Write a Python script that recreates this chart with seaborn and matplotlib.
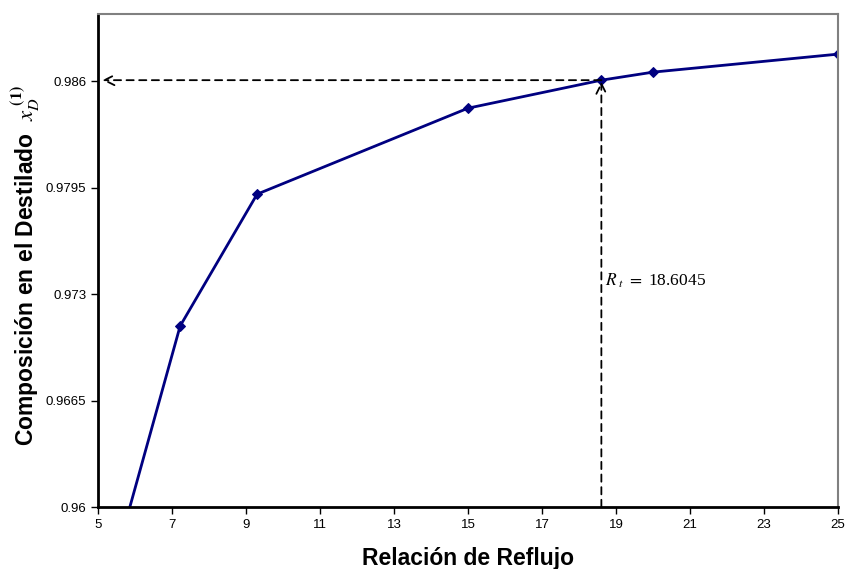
import matplotlib
matplotlib.use("Agg")
import matplotlib.pyplot as plt
import seaborn as sns
import pandas as pd

reflux = [5.0, 7.22, 9.3, 15.0, 18.6045, 20.0, 25.0]
xd = [0.9530, 0.97105, 0.9791, 0.98435, 0.98606, 0.98655, 0.98765]
xticks = [5, 7, 9, 11, 13, 15, 17, 19, 21, 23, 25]
yticks = [0.96, 0.9665, 0.973, 0.9795, 0.986]
ytick_labels = ["0.96", "0.9665", "0.973", "0.9795", "0.986"]
rt = 18.6045
rt_y = 0.98606

sns.set_style("white")
plt.rcParams['font.family'] = ['Liberation Sans', 'DejaVu Sans']
plt.rcParams['mathtext.fontset'] = 'stix'
for k in ['text.color', 'axes.labelcolor', 'xtick.color', 'ytick.color']:
    plt.rcParams[k] = 'black'

fig = plt.figure(figsize=(8.46, 5.69), dpi=100)
ax = fig.add_axes([98/846, 62/569, 740/846, 493/569])

df = pd.DataFrame({"R": reflux, "x": xd})
sns.lineplot(data=df, x="R", y="x", ax=ax, color="#000080", linewidth=2,
             marker="D", markersize=5, markeredgecolor="#000080", clip_on=True)

ax.set_xlim(5, 25)
ax.set_ylim(0.96, 0.9901)
ax.set_xticks(xticks)
ax.set_xticklabels([str(t) for t in xticks], fontsize=9.5)
ax.set_yticks(yticks)
ax.set_yticklabels(ytick_labels, fontsize=9.5)
ax.tick_params(axis='both', direction='out', length=5, width=1, color='black',
               bottom=True, left=True, labelcolor='black')

for s in ['left', 'bottom']:
    ax.spines[s].set_color('black')
    ax.spines[s].set_linewidth(2)
for s in ['top', 'right']:
    ax.spines[s].set_color('#808080')
    ax.spines[s].set_linewidth(1.5)

ax.set_xlabel("Relación de Reflujo", fontsize=16.5, fontweight='bold', labelpad=12)
ax.set_ylabel(r"Composición en el Destilado  $\mathit{x}_{\mathit{D}}^{\ \mathbf{(1)}}$",
              fontsize=16.5, fontweight='bold')
ax.yaxis.set_label_coords(-0.076, 0.49)

# vertical dashed arrow
ax.annotate("", xy=(rt, rt_y - 0.0001), xytext=(rt, 0.96),
            arrowprops=dict(arrowstyle="->", linestyle=(0, (4, 3)), color='black',
                            lw=1.3, mutation_scale=18, shrinkA=0, shrinkB=0))
# horizontal dashed arrow
ax.annotate("", xy=(5.12, rt_y), xytext=(rt, rt_y),
            arrowprops=dict(arrowstyle="->", linestyle=(0, (4, 3)), color='black',
                            lw=1.3, mutation_scale=18, shrinkA=0, shrinkB=0))

ax.text(rt + 0.1, 0.9738, r"$R_{\ t}\ =\ $18.6045", fontsize=12.5, family='Liberation Serif',
        va='center', ha='left', color='black')

fig.savefig("out.png", dpi=100)
